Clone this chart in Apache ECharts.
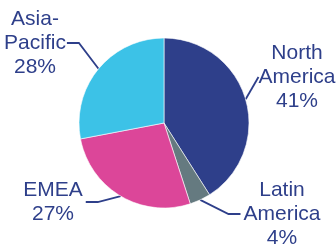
<!DOCTYPE html>
<html>
<head>
<meta charset="utf-8">
<script src="https://cdn.jsdelivr.net/npm/echarts@6/dist/echarts.min.js"></script>
<style>
  html, body { margin: 0; padding: 0; background: #fff; }
  #main { width: 336px; height: 246px; }
</style>
</head>
<body>
<div id="main"></div>
<script>
// 各地区占比
const regions = ['North\nAmerica', 'Latin\nAmerica', 'EMEA', 'Asia-\nPacific']
const shares = [41, 4, 27, 28]
const colorList = ['#2e3f8a', '#657a80', '#dc4699', '#3cc2e7']

// 标签位置 / 内边距（让引导线落在合适的高度）
const labelPos = [
  [297, 77],
  [282, 214],
  [53, 202],
  [35, 43],
]
const labelPadding = [
  [0, 3, 0, 3],
  [0, 3, 0, 3],
  [10, 3, 0, 3],
  [0, 3, 10, 3],
]

const textColor = '#2e3f8a'
const myChart = echarts.init(document.getElementById('main'))

const options = {
  animation: false,
  series: [
    {
      type: 'pie',
      center: [164, 123],
      radius: 85,
      startAngle: 90,
      clockwise: true,
      data: regions.map((name, index) => ({
        name: name,
        value: shares[index],
        itemStyle: { color: colorList[index] },
        label: { padding: labelPadding[index] },
        labelLine: { length2: index === 0 ? 0 : 12 },
      })),
      itemStyle: {
        borderColor: '#ffffff',
        borderWidth: 0.6,
      },
      label: {
        show: true,
        position: 'outside',
        formatter: '{b}\n{c}%',
        color: textColor,
        fontFamily: 'Liberation Sans, Arial, sans-serif',
        fontSize: 21,
        lineHeight: 24,
        align: 'center',
        overflow: 'none',
      },
      labelLine: {
        show: true,
        length: 10,
        length2: 12,
        lineStyle: {
          color: textColor,
          width: 1.8,
        },
      },
      labelLayout: function (params) {
        const p = labelPos[params.dataIndex]
        return {
          x: p[0],
          y: p[1],
          align: 'center',
          verticalAlign: 'middle',
        }
      },
    },
  ],
}
myChart.setOption(options)
</script>
</body>
</html>
